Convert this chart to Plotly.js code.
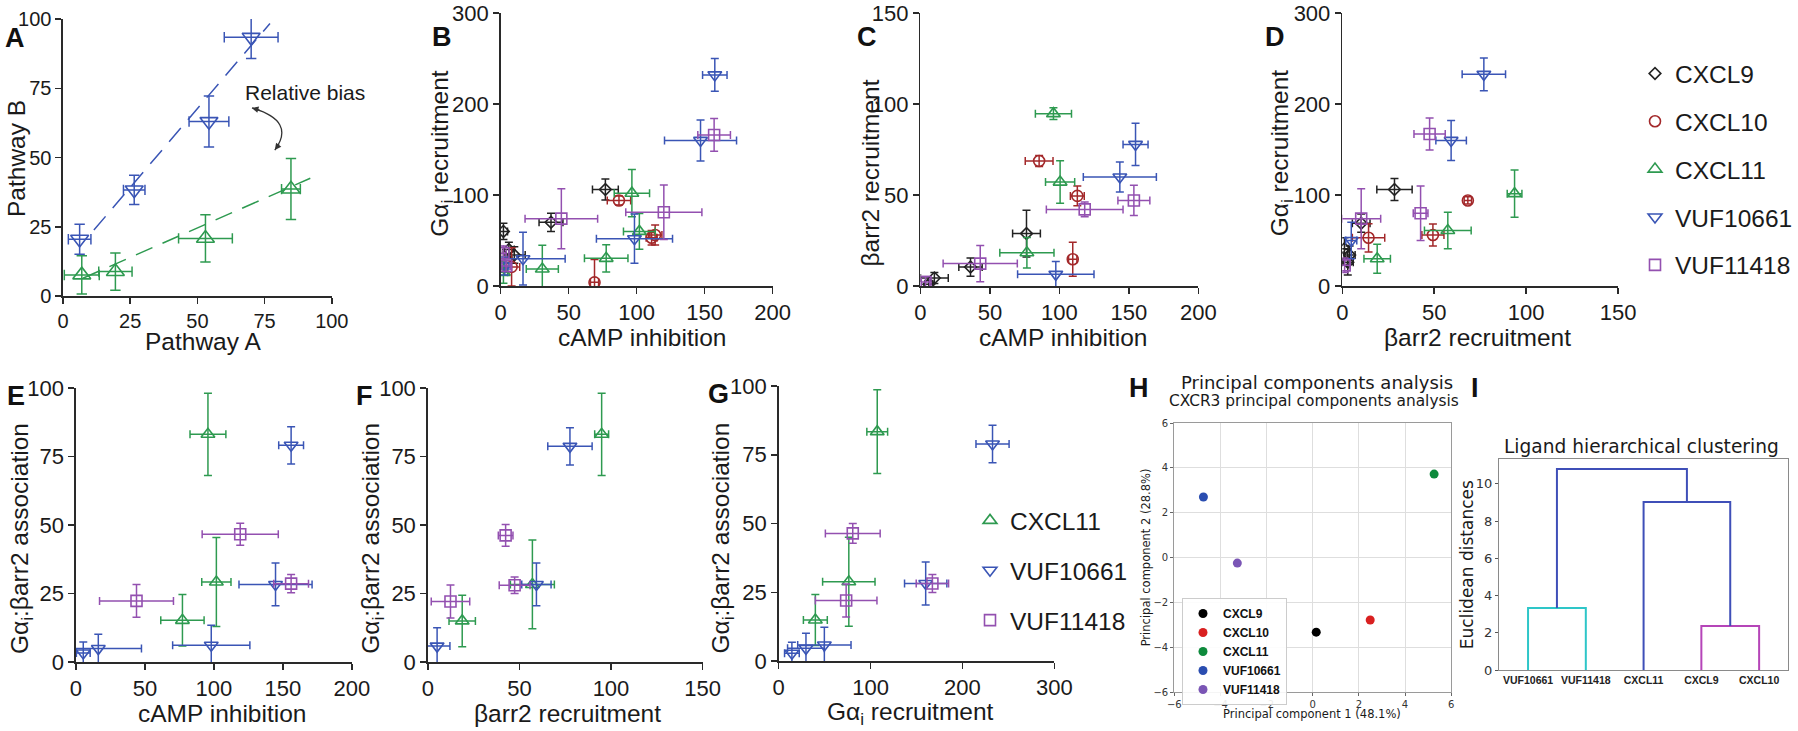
<!DOCTYPE html>
<html>
<head>
<meta charset="utf-8">
<script src="https://cdn.plot.ly/plotly-3.0.1.min.js"></script>
<style>html,body{margin:0;padding:0;background:#fff;}#chart{width:1798px;height:731px;}</style>
</head>
<body>
<div id="chart"></div>
<script>
// ---------------- DATA ----------------
// each point: [x, y, xError, yError]
// Panel A (Pathway A vs Pathway B)
const A_VUF10661 = [[6.2,20.5,4.2,5.4],[26.5,38.3,4,5.3],[54.3,63,7.4,9.2],[70,93.4,10,7.7]];
const A_CXCL11   = [[7,7.6,6.5,6.9],[19.5,8.8,6.2,6.7],[53,20.8,10,8.5],[84.8,38.6,3.5,11]];
const A_fit_VUF10661_x = [11.5,77];  const A_fit_VUF10661_y = [23.8,98.4];
const A_fit_CXCL11_x   = [7.4,92];   const A_fit_CXCL11_y   = [6.4,42.5];

// Panel B (cAMP inhibition vs Gai recruitment)
const B_CXCL9    = [[77,106,9.5,11.5],[37,70,8.8,10],[2,60,3,9],[6,40,4,8],[10,34,8,9]];
const B_CXCL10   = [[87,94,8.6,5],[69,4,3,25],[113.6,56,5,11],[111,53,4,8],[8,21,6,21]];
const B_CXCL11   = [[96.5,102,13,26],[102,60,11.7,19.6],[77.6,30.4,16,15],[30.6,18.7,11.8,26],[2,15,3,12]];
const B_VUF10661 = [[157.5,232,9,18],[147,160,26.5,22.5],[98.4,52,28,27],[16.4,30,31,29],[3,22,3,10]];
const B_VUF11418 = [[157,166,12,18],[120,81,28,30],[44.6,74,26.7,33],[2,36,2,8],[4,22,3,6]];

// Panel C (cAMP inhibition vs barr2 recruitment)
const C_CXCL9    = [[76.3,28.8,10,12.8],[36,10.4,8.4,5],[10,4.4,10,3],[6,1,3,2]];
const C_CXCL10   = [[85.4,68.7,10,3],[112.9,49.5,5,5.4],[109.6,14.7,3,9.4]];
const C_CXCL11   = [[95.7,94.7,13,3.2],[100.5,57.1,10.5,11.7],[76.6,18.3,19.5,8.4]];
const C_VUF10661 = [[154.8,77.8,9,11.6],[143.5,59.9,26.3,8.2],[97.4,6.4,27.5,7]];
const C_VUF11418 = [[153.6,47,11.5,8.3],[118.2,42.1,27.6,4],[43,12.3,26.7,10],[3.6,2.2,3,3]];

// Panel D (barr2 recruitment vs Gai recruitment)
const D_CXCL9    = [[28.4,106,9.6,12],[10.3,69,4.8,10],[1.2,41,2,12],[4,34,3,10],[3,26,3,14]];
const D_CXCL10   = [[68.3,94,2,4],[49.3,56,6,12],[14.3,53,8.8,15.5]];
const D_CXCL11   = [[93.7,101.5,4,26],[57.4,61,12.7,20],[19,30,7.2,16]];
const D_VUF10661 = [[77,232.6,11.8,18],[59.2,160,8.3,22],[4.9,50,3,20]];
const D_VUF11418 = [[47.5,167,8.5,17.5],[42.6,80,4,30],[10.3,74,10.6,33],[1.3,22.7,3,8]];

// Panel E (cAMP inhibition vs Gai:barr2 association)
const E_CXCL11   = [[95.7,83.1,13,15],[101.8,29.2,10.6,16.2],[77.2,15.2,15.7,9.4]];
const E_VUF10661 = [[156,79.1,9,6.8],[144.7,28.3,26.5,7.8],[98.1,6.1,28,7.3],[16.2,4.9,31.3,5.2],[5.3,3.3,5,4]];
const E_VUF11418 = [[119.1,46.6,27.6,4],[156,28.6,12.6,3.3],[43.9,22.3,26.8,6]];

// Panel F (barr2 recruitment vs Gai:barr2 association)
const F_CXCL11   = [[94.9,83.1,3.8,15],[57.1,28.3,12,16.2],[18.8,15,7.2,9.4]];
const F_VUF10661 = [[77.6,78.7,12.1,6.8],[59.3,28.3,8,7.8],[5.1,5.8,7,6.7]];
const F_VUF11418 = [[42.5,46.2,4,4],[47.4,28,8.4,3],[12.4,22.1,10.5,6]];

// Panel G (Gai recruitment vs Gai:barr2 association)
const G_CXCL11   = [[107.3,83.4,11.3,15.2],[76.4,28.8,28.5,16.2],[40,14.9,13,9.3]];
const G_VUF10661 = [[232.7,78.9,18,6.8],[160,28.2,23,7.8],[49.8,5.8,29,6.5],[29.8,4.6,20,5.5],[14.5,2.8,8,4]];
const G_VUF11418 = [[80.7,46.4,29.8,3.6],[73.5,22,33.5,6],[167.3,28.2,17.6,3.3]];

// Panel H (PCA)
const H_ligands = ['CXCL9','CXCL10','CXCL11','VUF10661','VUF11418'];
const H_pc1 = [0.15, 2.49, 5.26, -4.74, -3.27];
const H_pc2 = [-3.33, -2.79, 3.72, 2.7, -0.25];

// Panel I (dendrogram): leaf order and linkage [childA, childB, height]
const I_leaves = ['VUF10661','VUF11418','CXCL11','CXCL9','CXCL10'];
const I_links  = [[0,1,3.33],[3,4,2.37],[2,6,9.03],[5,7,10.8]];

// ---------------- STYLE ----------------
const W = 1798, H = 731;
const FONT = 'Liberation Sans, Arial, Helvetica, sans-serif';
const MPL = 'DejaVu Sans, sans-serif';
const colors  = {CXCL9:'#222222', CXCL10:'#a3282a', CXCL11:'#2e9a50', VUF10661:'#3a55b5', VUF11418:'#9350b0'};
const symbols = {CXCL9:'diamond-open', CXCL10:'circle-open', CXCL11:'triangle-up-open', VUF10661:'triangle-down-open', VUF11418:'square-open'};
const msize   = {CXCL9:9, CXCL10:11, CXCL11:12, VUF10661:12, VUF11418:11};
const H_colors = {CXCL9:'#000000', CXCL10:'#d92020', CXCL11:'#0e8a3c', VUF10661:'#2a4db0', VUF11418:'#7a55b5'};
const I_linkColors = ['#2ec6c8','#b545b8','#3f4fb8','#3f4fb8'];

const geom = {
  A:{x:[63,332],  y:[19,296]},
  B:{x:[501,773], y:[13,286]},
  C:{x:[921,1199],y:[13,286]},
  D:{x:[1343,1619],y:[13,286]},
  E:{x:[76,352],  y:[388,662]},
  F:{x:[428,703], y:[388,662]},
  G:{x:[779,1055],y:[386,661]},
  H:{x:[1175,1452],y:[423,692]},
  I:{x:[1500,1789],y:[459,670]}
};
function xd(g){return [g.x[0]/W, g.x[1]/W];}
function yd(g){return [1-g.y[1]/H, 1-g.y[0]/H];}
function px(v){return v/W;}
function py(v){return 1-v/H;}

function gpAxis(g, isX, range, dtick, anchor, fs){
  return {domain: isX?xd(g):yd(g), range: range, tick0:0, dtick: dtick, anchor: anchor,
    showline:true, linecolor:'#2a2a2a', linewidth:1.5, ticks:'outside', ticklen:6, tickwidth:1.5,
    tickcolor:'#2a2a2a', showgrid:false, zeroline:false, fixedrange:true,
    tickfont:{family:FONT, size:fs||22, color:'#1a1a1a'}};
}

function errTrace(pts, name, xa, ya, legend, scale){
  const s = scale || 1;
  return {type:'scatter', mode:'markers', name:name, xaxis:xa, yaxis:ya,
    x: pts.map(p=>p[0]), y: pts.map(p=>p[1]),
    error_x:{type:'data', array: pts.map(p=>p[2]), color: colors[name], thickness:1.5, width:4*s},
    error_y:{type:'data', array: pts.map(p=>p[3]), color: colors[name], thickness:1.5, width:4*s},
    marker:{symbol: symbols[name], size: msize[name]*s, color: colors[name], line:{width:1.6, color: colors[name]}},
    showlegend: !!legend, legend: legend || 'legend', legendgroup: (legend||'l')+name, hoverinfo:'skip'};
}

const traces = [];
// A
traces.push({type:'scatter', mode:'lines', x:A_fit_VUF10661_x, y:A_fit_VUF10661_y, xaxis:'x', yaxis:'y',
  line:{color:colors.VUF10661, width:1.5, dash:'18px,11px'}, showlegend:false, hoverinfo:'skip'});
traces.push({type:'scatter', mode:'lines', x:A_fit_CXCL11_x, y:A_fit_CXCL11_y, xaxis:'x', yaxis:'y',
  line:{color:colors.CXCL11, width:1.5, dash:'18px,11px'}, showlegend:false, hoverinfo:'skip'});
traces.push(errTrace(A_VUF10661,'VUF10661','x','y',null,1.3));
traces.push(errTrace(A_CXCL11,'CXCL11','x','y',null,1.3));
// B (carries the main legend)
traces.push(errTrace(B_CXCL9,'CXCL9','x2','y2','legend'));
traces.push(errTrace(B_CXCL10,'CXCL10','x2','y2','legend'));
traces.push(errTrace(B_CXCL11,'CXCL11','x2','y2','legend'));
traces.push(errTrace(B_VUF10661,'VUF10661','x2','y2','legend'));
traces.push(errTrace(B_VUF11418,'VUF11418','x2','y2','legend'));
// C
traces.push(errTrace(C_CXCL9,'CXCL9','x3','y3'));
traces.push(errTrace(C_CXCL10,'CXCL10','x3','y3'));
traces.push(errTrace(C_CXCL11,'CXCL11','x3','y3'));
traces.push(errTrace(C_VUF10661,'VUF10661','x3','y3'));
traces.push(errTrace(C_VUF11418,'VUF11418','x3','y3'));
// D
traces.push(errTrace(D_CXCL9,'CXCL9','x4','y4'));
traces.push(errTrace(D_CXCL10,'CXCL10','x4','y4'));
traces.push(errTrace(D_CXCL11,'CXCL11','x4','y4'));
traces.push(errTrace(D_VUF10661,'VUF10661','x4','y4'));
traces.push(errTrace(D_VUF11418,'VUF11418','x4','y4'));
// E
traces.push(errTrace(E_CXCL11,'CXCL11','x5','y5'));
traces.push(errTrace(E_VUF10661,'VUF10661','x5','y5'));
traces.push(errTrace(E_VUF11418,'VUF11418','x5','y5'));
// F
traces.push(errTrace(F_CXCL11,'CXCL11','x6','y6'));
traces.push(errTrace(F_VUF10661,'VUF10661','x6','y6'));
traces.push(errTrace(F_VUF11418,'VUF11418','x6','y6'));
// G (carries second legend)
traces.push(errTrace(G_CXCL11,'CXCL11','x7','y7','legend2'));
traces.push(errTrace(G_VUF10661,'VUF10661','x7','y7','legend2'));
traces.push(errTrace(G_VUF11418,'VUF11418','x7','y7','legend2'));
// H
H_ligands.forEach((name,i)=>{
  traces.push({type:'scatter', mode:'markers', name:'<b>'+name+'</b>', x:[H_pc1[i]], y:[H_pc2[i]], xaxis:'x8', yaxis:'y8',
    marker:{size:9, color:H_colors[name]}, legend:'legend3', showlegend:true, hoverinfo:'skip'});
});
// I dendrogram built from linkage
(function(){
  const pos = I_leaves.map((_,i)=>5+10*i);
  const hgt = I_leaves.map(()=>0);
  I_links.forEach((lk,k)=>{
    const a=lk[0], b=lk[1], h=lk[2];
    traces.push({type:'scatter', mode:'lines', x:[pos[a],pos[a],pos[b],pos[b]], y:[hgt[a],h,h,hgt[b]],
      xaxis:'x9', yaxis:'y9', line:{color:I_linkColors[k], width:2}, showlegend:false, hoverinfo:'skip'});
    pos.push((pos[a]+pos[b])/2); hgt.push(h);
  });
})();

const layout = {
  width:W, height:H, margin:{l:0,r:0,t:0,b:0}, paper_bgcolor:'#fff', plot_bgcolor:'#fff',
  font:{family:FONT, color:'#1a1a1a'}, hovermode:false,
  xaxis:  gpAxis(geom.A,true,[0,100],25,'y',20),   yaxis:  gpAxis(geom.A,false,[0,100],25,'x',20),
  xaxis2: gpAxis(geom.B,true,[0,200],50,'y2'),  yaxis2: gpAxis(geom.B,false,[0,300],100,'x2'),
  xaxis3: gpAxis(geom.C,true,[0,200],50,'y3'),  yaxis3: gpAxis(geom.C,false,[0,150],50,'x3'),
  xaxis4: gpAxis(geom.D,true,[0,150],50,'y4'),  yaxis4: gpAxis(geom.D,false,[0,300],100,'x4'),
  xaxis5: gpAxis(geom.E,true,[0,200],50,'y5'),  yaxis5: gpAxis(geom.E,false,[0,100],25,'x5'),
  xaxis6: gpAxis(geom.F,true,[0,150],50,'y6'),  yaxis6: gpAxis(geom.F,false,[0,100],25,'x6'),
  xaxis7: gpAxis(geom.G,true,[0,300],100,'y7'), yaxis7: gpAxis(geom.G,false,[0,100],25,'x7'),
  xaxis8: {domain:xd(geom.H), range:[-6,6], dtick:2, tick0:0, anchor:'y8', showline:true, mirror:true, linecolor:'#9a9a9a', linewidth:1.2,
    ticks:'outside', ticklen:3, tickcolor:'#666', showgrid:true, gridcolor:'#dedede', zeroline:false, fixedrange:true,
    tickfont:{family:MPL, size:10, color:'#333'}},
  yaxis8: {domain:yd(geom.H), range:[-6,6], dtick:2, tick0:0, anchor:'x8', showline:true, mirror:true, linecolor:'#9a9a9a', linewidth:1.2,
    ticks:'outside', ticklen:3, tickcolor:'#666', showgrid:true, gridcolor:'#dedede', zeroline:false, fixedrange:true,
    tickfont:{family:MPL, size:10, color:'#333'}},
  xaxis9: {domain:xd(geom.I), range:[0,50], anchor:'y9', tickvals:I_leaves.map((_,i)=>5+10*i), ticktext:I_leaves, tickangle:0,
    showline:true, mirror:true, linecolor:'#8a8a8a', linewidth:1.2, ticks:'', showgrid:false, zeroline:false, fixedrange:true,
    tickfont:{family:FONT, size:10.5, color:'#222', weight:'bold'}},
  yaxis9: {domain:yd(geom.I), range:[0,11.34], dtick:2, tick0:0, anchor:'x9', showline:true, mirror:true, linecolor:'#8a8a8a', linewidth:1.2,
    ticks:'outside', ticklen:3, tickcolor:'#555', showgrid:false, zeroline:false, fixedrange:true,
    tickfont:{family:MPL, size:13, color:'#333'}},
  legend:  {x:px(1636), y:py(51), xanchor:'left', yanchor:'top', font:{family:FONT, size:24.5, color:'#1a1a1a'},
    tracegroupgap:13, bgcolor:'rgba(0,0,0,0)', itemclick:false, itemdoubleclick:false},
  legend2: {x:px(970), y:py(498), xanchor:'left', yanchor:'top', font:{family:FONT, size:24.5, color:'#1a1a1a'},
    tracegroupgap:15, bgcolor:'rgba(0,0,0,0)', itemclick:false, itemdoubleclick:false},
  legend3: {x:px(1182), y:py(598), xanchor:'left', yanchor:'top', font:{family:FONT, size:12, color:'#111'},
    bgcolor:'rgba(255,255,255,0.9)', bordercolor:'#cccccc', borderwidth:1, itemclick:false, itemdoubleclick:false},
  shapes: [
    {type:'path', xref:'x', yref:'y', path:'M 70.3,67.9 Q 86.8,63.2 78.8,52.7', line:{color:'#333', width:1.3}}
  ],
  annotations: []
};

const ann = layout.annotations;
function label(t, x, y){ ann.push({text:'<b>'+t+'</b>', xref:'paper', yref:'paper', x:px(x), y:py(y), showarrow:false,
  font:{family:FONT, size:27, color:'#111'}, xanchor:'center', yanchor:'middle'}); }
function title(t, x, y, rot, size, fam){ ann.push({text:t, xref:'paper', yref:'paper', x:px(x), y:py(y), showarrow:false,
  textangle: rot?-90:0, font:{family:fam||FONT, size:size||24.5, color:'#1a1a1a'}, xanchor:'center', yanchor:'middle'}); }

label('A',15,38); label('B',442,37); label('C',867,37); label('D',1276,37);
label('E',16,396); label('F',365,396); label('G',719,394); label('H',1140,388); label('I',1476,388);

const GAI = 'Gα<sub>i</sub> recruitment';
const ASSOC = 'Gα<sub>i</sub>:βarr2 association';
title('Pathway A',203,341); title('Pathway B',16,158,true);
title('cAMP inhibition',642,337); title(GAI,441,153,true);
title('cAMP inhibition',1064,337); title('βarr2 recruitment',870,173,true);
title('βarr2 recruitment',1478,337); title(GAI,1282,153,true);
title('cAMP inhibition',222,713); title(ASSOC,21,538,true);
title('βarr2 recruitment',568,713); title(ASSOC,372,538,true);
title(GAI,911,713); title(ASSOC,722,538,true);
// H titles
title('Principal components analysis',1318,383,false,18,MPL);
title('CXCR3 principal components analysis',1315,401,false,15.4,MPL);
title('Principal component 1 (48.1%)',1313,714,false,11.5,MPL);
title('Principal component 2 (28.8%)',1147,557,true,11.5,MPL);
// I titles
title('Ligand hierarchical clustering',1642,447,false,18.6,MPL);
title('Euclidean distances',1468,565,true,17,MPL);

// Relative bias annotation and arrowheads (panel A data coordinates)
ann.push({text:'Relative bias', xref:'x', yref:'y', x:66.9, y:73.3, xanchor:'left', yanchor:'middle', showarrow:false,
  font:{family:FONT, size:21, color:'#1a1a1a'}});
ann.push({text:'', xref:'x', yref:'y', x:70.3, y:67.9, ax:9, ay:2.6, showarrow:true, arrowhead:2, arrowsize:1, arrowwidth:1.3, arrowcolor:'#333'});
ann.push({text:'', xref:'x', yref:'y', x:78.8, y:52.7, ax:5.4, ay:-7.2, showarrow:true, arrowhead:2, arrowsize:1, arrowwidth:1.3, arrowcolor:'#333'});

Plotly.newPlot('chart', traces, layout, {displayModeBar:false, staticPlot:true});
</script>
</body>
</html>
